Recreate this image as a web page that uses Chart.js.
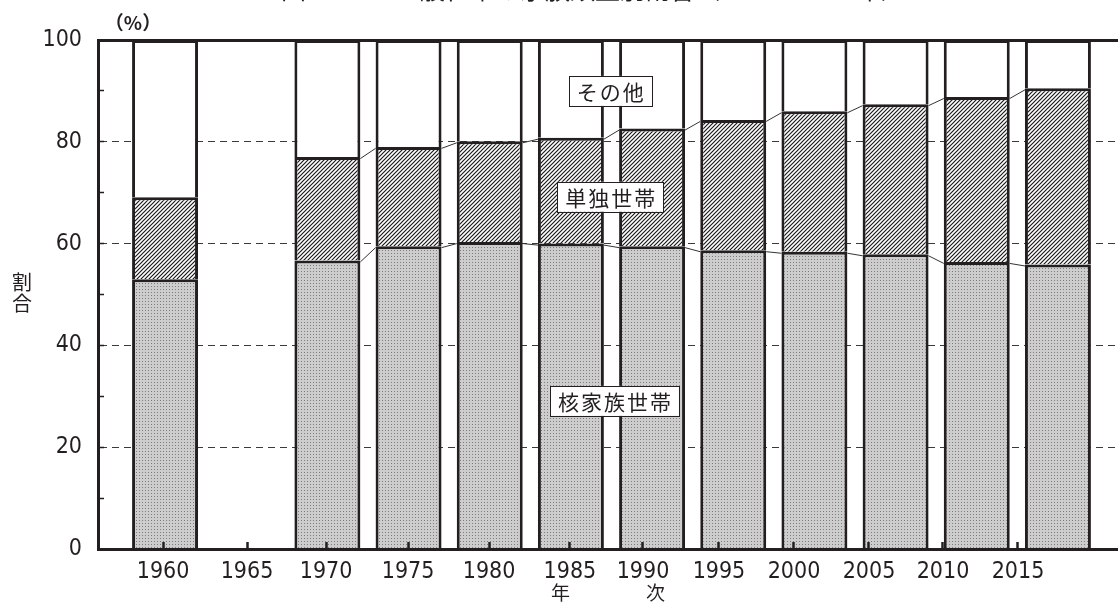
<!DOCTYPE html>
<html lang="ja">
<head>
<meta charset="utf-8">
<script src="https://cdn.jsdelivr.net/npm/chart.js@4"></script>
<style>
html, body { margin: 0; padding: 0; background: #fff; overflow: hidden; }
</style>
</head>
<body>
<canvas id="myChart" width="1118" height="610"></canvas>
<script>
// data
const years = [1960, 1965, 1970, 1975, 1980, 1985, 1990, 1995, 2000, 2005, 2010, 2015];
const nuclear = [53.0, null, 56.7, 59.5, 60.3, 60.0, 59.5, 58.7, 58.4, 57.9, 56.4, 55.9];
const single = [16.1, null, 20.3, 19.5, 19.8, 20.8, 23.1, 25.6, 27.6, 29.5, 32.4, 34.6];
const others = [30.9, null, 23.0, 21.0, 19.9, 19.2, 17.4, 15.7, 14.0, 12.6, 11.2, 9.5];

// tick labels sit a little off the bars in the original
const tickLabels = ['1960', '1965', '1970', '1975', '1980', '1985', '1990', '1995', '2000', '2005', '2010', '2015'];
const tickPos = [1959.88, 1965.05, 1969.92, 1974.97, 1979.96, 1984.94, 1989.44, 1994.12, 1998.74, 2003.36, 2007.92, 2012.54];

const boxTexts = ['その他', '単独世帯', '核家族世帯'];
const boxX = [1987.43, 1987.43, 1987.68];
const boxY = [90.0, 69.2, 29.1];

const xMin = 1955.87;
const xMax = 2018.7;

const ink = '#231f20';
const numFont = "'DejaVu Sans Condensed', 'DejaVu Sans', sans-serif";
const jpFont = "'Noto Sans CJK JP', sans-serif";

const convas = document.getElementById('myChart');
const ctx = convas.getContext('2d');

function dotPattern() {
    const c = document.createElement('canvas');
    c.width = 3; c.height = 3;
    const g = c.getContext('2d');
    g.fillStyle = '#cdcdcd';
    g.fillRect(0, 0, 3, 3);
    g.fillStyle = '#7d7d7d';
    g.fillRect(1, 1, 1, 1);
    return ctx.createPattern(c, 'repeat');
}

function hatchPattern() {
    const s = 4;
    const c = document.createElement('canvas');
    c.width = s; c.height = s;
    const g = c.getContext('2d');
    g.fillStyle = '#fff';
    g.fillRect(0, 0, s, s);
    g.strokeStyle = '#1a1a1a';
    g.lineWidth = 1.2;
    g.beginPath();
    g.moveTo(-1, s + 1); g.lineTo(s + 1, -1);
    g.moveTo(-1, 1); g.lineTo(1, -1);
    g.moveTo(s - 1, s + 1); g.lineTo(s + 1, s - 1);
    g.stroke();
    return ctx.createPattern(c, 'repeat');
}

const toPts = arr => years.map((y, i) => ({ x: y, y: arr[i] }));

const barStyle = {
    borderColor: ink,
    borderWidth: 3,
    xAxisID: 'xb',
    yAxisID: 'y',
    barPercentage: 0.9,
    categoryPercentage: 0.903
};

// series lines, label boxes and loose texts
const extras = {
    id: 'extras',
    afterDatasetsDraw(chart) {
        const c = chart.ctx;
        const xs = chart.scales.xb;
        const ys = chart.scales.y;
        c.save();

        // thin lines joining the segment tops of neighbouring bars
        c.strokeStyle = '#333';
        c.lineWidth = 1;
        [nuclear, single].forEach((arr, d) => {
            const bars = chart.getDatasetMeta(d).data;
            for (let i = 0; i < arr.length - 1; i++) {
                if (arr[i] == null || arr[i + 1] == null) continue;
                const a = bars[i], b = bars[i + 1];
                c.beginPath();
                c.moveTo(a.x + a.width / 2, a.y + 1.5);
                c.lineTo(b.x - b.width / 2, b.y + 1.5);
                c.stroke();
            }
        });

        // label boxes
        c.font = '21px ' + jpFont;
        c.textBaseline = 'middle';
        c.textAlign = 'left';
        const pitch = 23;
        boxTexts.forEach((t, i) => {
            const cx = xs.getPixelForValue(boxX[i]);
            const cy = ys.getPixelForValue(boxY[i]);
            const w = t.length * pitch - 2 + 16;
            const h = 30;
            c.fillStyle = '#fff';
            c.fillRect(cx - w / 2, cy - h / 2, w, h);
            c.strokeStyle = ink;
            c.lineWidth = 1;
            c.strokeRect(Math.round(cx - w / 2) + 0.5, Math.round(cy - h / 2) + 0.5, w, h);
            c.fillStyle = ink;
            let x = cx - w / 2 + 8;
            for (const ch of t) {
                c.fillText(ch, x, cy + 1);
                x += pitch;
            }
        });

        // clipped title at the very top
        c.fillStyle = ink;
        c.textBaseline = 'alphabetic';
        c.font = '25px ' + jpFont;
        c.fillText('図', 281, -1);
        c.fillText('一般世帯の家族類型別割合（1960～2015年）', 395, -1);

        // unit and y axis caption
        c.textAlign = 'center';
        c.textBaseline = 'middle';
        c.font = 'bold 19px ' + jpFont;
        c.fillText('（%）', 133, 23);
        c.font = '20px ' + jpFont;
        c.fillText('割', 22, 282);
        c.fillText('合', 22, 303);

        c.restore();
    }
};

const chartInstance = new Chart(ctx, {
    type: 'bar',
    data: {
        datasets: [
            { label: '核家族世帯', data: toPts(nuclear), backgroundColor: dotPattern(), ...barStyle },
            { label: '単独世帯', data: toPts(single), backgroundColor: hatchPattern(), ...barStyle },
            { label: 'その他', data: toPts(others), backgroundColor: '#fff', ...barStyle }
        ]
    },
    options: {
        responsive: false,
        animation: false,
        layout: { padding: 0 },
        plugins: {
            legend: { display: false },
            tooltip: { enabled: false },
            title: { display: false }
        },
        scales: {
            xb: {
                type: 'linear',
                display: false,
                stacked: true,
                offset: false,
                min: xMin,
                max: xMax
            },
            x: {
                type: 'linear',
                position: 'bottom',
                offset: false,
                min: xMin,
                max: xMax,
                afterBuildTicks: s => { s.ticks = tickPos.map(v => ({ value: v })); },
                afterFit: s => { s.height = 61; },
                ticks: {
                    autoSkip: false,
                    maxRotation: 0,
                    padding: 16,
                    color: ink,
                    font: { family: numFont, size: 23, weight: 'normal condensed' },
                    callback: (v, i) => tickLabels[i]
                },
                grid: {
                    z: 1,
                    offset: false,
                    drawOnChartArea: false,
                    drawTicks: true,
                    tickLength: -7,
                    tickWidth: 2.5,
                    tickColor: ink
                },
                border: { display: true, width: 3, color: ink, z: 1 },
                title: {
                    display: true,
                    text: '年　　　　次',
                    color: ink,
                    font: { family: jpFont, size: 19 },
                    padding: { top: 0, bottom: 6 }
                }
            },
            xTop: {
                type: 'linear',
                position: 'top',
                grid: { display: false },
                ticks: { display: false },
                border: { display: true, width: 3, color: ink },
                afterFit: s => { s.height = 40; }
            },
            y: {
                stacked: true,
                min: 0,
                max: 100,
                afterFit: s => { s.width = 98; },
                ticks: {
                    stepSize: 10,
                    padding: 22,
                    color: ink,
                    font: { family: numFont, size: 23, weight: 'normal condensed' },
                    callback: v => (v % 20 === 0 ? v : '')
                },
                grid: {
                    color: c => (c.tick && c.tick.value % 20 === 0 && c.tick.value > 0 && c.tick.value < 100) ? '#3a3a3a' : 'rgba(0,0,0,0)',
                    lineWidth: 1,
                    tickLength: -6,
                    tickWidth: 1.5,
                    tickColor: ink
                },
                border: { display: true, width: 3, color: ink, dash: [7, 5] }
            }
        }
    },
    plugins: [extras]
});
</script>
</body>
</html>
